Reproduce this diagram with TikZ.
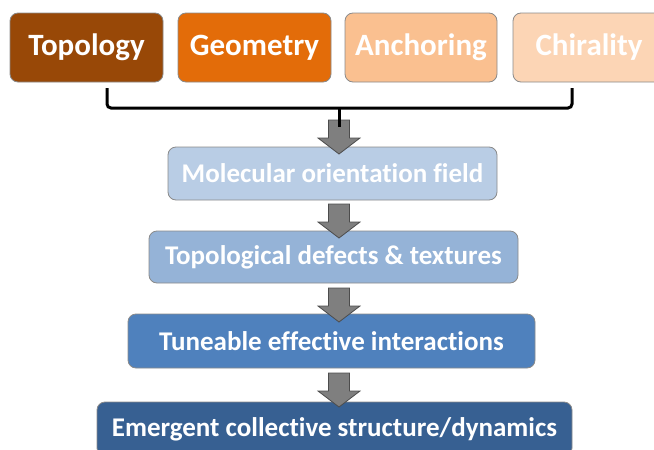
\documentclass[tikz,border=0pt]{standalone}
\usepackage{fontspec}
\setmainfont{Carlito}[Ligatures={NoCommon}]
\usetikzlibrary{calc}
\definecolor{cTopo}{HTML}{984807}
\definecolor{cGeo}{HTML}{E36C09}
\definecolor{cAnc}{HTML}{FAC090}
\definecolor{cChi}{HTML}{FCD5B5}
\definecolor{cB1}{HTML}{B9CDE5}
\definecolor{cB2}{HTML}{95B3D7}
\definecolor{cB3}{HTML}{4F81BD}
\definecolor{cB4}{HTML}{376092}
\definecolor{cArr}{HTML}{7F7F7F}
\definecolor{cEdge}{HTML}{8A8A8A}
\tikzset{
  box/.style={draw=cEdge, line width=0.8pt, rounded corners=8pt, text=white,
    font=\fontsize{27}{30}\selectfont\bfseries, inner sep=0pt, align=center},
  topbox/.style={box, font=\fontsize{31}{34}\selectfont\bfseries,
    minimum height=69pt},
  barrowstyle/.style={fill=cArr, draw=black!70, line width=0.8pt, line join=miter},
  bracket/.style={draw=black, line width=3pt, rounded corners=4pt},
  pics/downarrow/.style={code={
    \path[barrowstyle] (-10.5,0) -- (10.5,0) -- (10.5,18) -- (21,18) -- (0,34)
      -- (-21,18) -- (-10.5,18) -- cycle;
  }}
}
\begin{document}
\begin{tikzpicture}[x=1pt, y=-1pt]
\useasboundingbox (0,0) rectangle (654,450);
\clip (0,0) rectangle (654,450);
% top boxes
\node[topbox, fill=cTopo, minimum width=153pt] (topo) at (86.5,47.5) {Topology};
\node[topbox, fill=cGeo, minimum width=153pt] (geo) at (254.5,47.5) {Geometry};
\node[topbox, fill=cAnc, minimum width=152pt] (anc) at (421,47.5) {Anchoring};
\node[topbox, fill=cChi, minimum width=152pt] (chi) at (589,47.5) {Chirality};
% flow boxes
\node[box, fill=cB1, minimum width=329pt, minimum height=53pt] (b1) at (332.5,173.5) {Molecular orientation field};
\node[box, fill=cB2, minimum width=369pt, minimum height=52pt] (b2) at (333.5,257) {Topological defects \& textures};
\node[box, fill=cB3, minimum width=407pt, minimum height=54pt] (b3) at (331.5,341) {Tuneable effective interactions};
\node[box, fill=cB4, minimum width=475pt, minimum height=54pt] (b4) at (334.5,429) {Emergent collective structure/dynamics};
% arrows
\coordinate (a1) at (339,120);
\coordinate (a2) at (339,204);
\coordinate (a3) at (339,288);
\coordinate (a4) at (339,373);
\pic at (a1) {downarrow};
\pic at (a2) {downarrow};
\pic at (a3) {downarrow};
\pic at (a4) {downarrow};
% bracket
\coordinate (bl) at (107,88);
\coordinate (br) at (572,88);
\coordinate (bc) at (339,108);
\coordinate (bs) at (339,127);
\draw[bracket] (bl) -- (107,108) -- (572,108) -- (br);
\draw[draw=black, line width=3pt] (bc) -- (bs);
\end{tikzpicture}
\end{document}
